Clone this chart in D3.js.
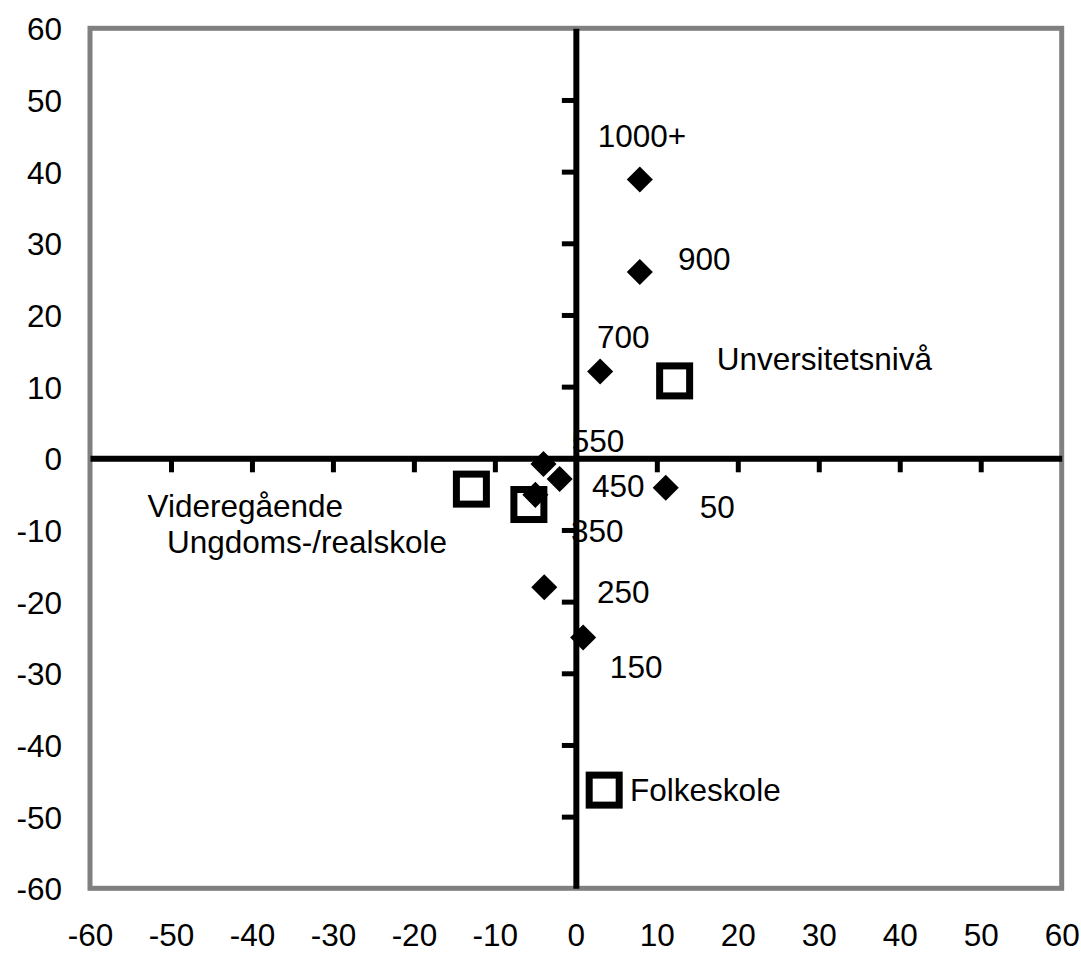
<!DOCTYPE html>
<html>
<head>
<meta charset="utf-8">
<script src="https://cdn.jsdelivr.net/npm/d3@7"></script>
<style>
  body { margin: 0; background: #fff; }
  text { font-family: "Liberation Sans", Arial, sans-serif; fill: #000; }
</style>
</head>
<body>
<div id="chart"></div>
<script>
'use strict';

// income groups (diamonds)
var incomeLabels = ['1000+', '900', '700', '550', '450', '350', '250', '150', '50'];
var incomeX = [7.9, 7.9, 3.0, -4.0, -2.0, -5.0, -3.9, 0.9, 11.1];
var incomeY = [38.9, 26.0, 12.1, -0.8, -2.9, -5.1, -18.0, -25.0, -4.1];
var incomeTextX = [2.7, 12.6, 2.6, -0.5, 2.0, -0.6, 2.6, 4.2, 15.3];
var incomeTextY = [43.4, 26.3, 15.4, 0.9, -5.4, -11.7, -20.2, -30.7, -8.3];

// education levels (hollow squares)
var eduLabels = ['Unversitetsnivå', 'Videregående', 'Ungdoms-/realskole', 'Folkeskole'];
var eduX = [12.2, -12.9, -5.8, 3.5];
var eduY = [10.8, -4.3, -6.45, -46.3];
var eduTextX = [17.4, -52.9, -50.5, 6.7];
var eduTextY = [12.3, -8.2, -13.2, -47.8];

var axisTicks = [-60, -50, -40, -30, -20, -10, 0, 10, 20, 30, 40, 50, 60];
var innerTicks = [-50, -40, -30, -20, -10, 10, 20, 30, 40, 50];

var w, h, fontSize, svg, x, y, i, diamond, zeroX, zeroY, plain;

w = 1081;
h = 955;
fontSize = '31.5px';

// plain hyphen for negatives, like the original
plain = function(d) { return String(d); };

svg = d3.select('#chart')
  .append('svg')
  .attr('width', w)
  .attr('height', h);

x = d3.scaleLinear().domain([-60, 60]).range([90, 1061.7]);
y = d3.scaleLinear().domain([-60, 60]).range([888.3, 28.3]);

// plot frame
svg.append('rect')
  .attr('x', x(-60))
  .attr('y', y(60))
  .attr('width', x(60) - x(-60))
  .attr('height', y(-60) - y(60))
  .attr('fill', 'none')
  .attr('stroke', '#808080')
  .attr('stroke-width', 5);

// outer tick labels
svg.append('g')
  .attr('transform', 'translate(0,' + (y(-60) + 58) + ')')
  .call(d3.axisBottom(x).tickValues(axisTicks).tickSize(0).tickPadding(0).tickFormat(plain))
  .call(function(g) { g.select('.domain').remove(); })
  .selectAll('text')
  .attr('dy', 0)
  .style('font-size', fontSize)
  .style('font-family', '"Liberation Sans", Arial, sans-serif');

svg.append('g')
  .attr('transform', 'translate(' + (x(-60) - 28) + ',0)')
  .call(d3.axisLeft(y).tickValues(axisTicks).tickSize(0).tickPadding(0).tickFormat(plain))
  .call(function(g) { g.select('.domain').remove(); })
  .selectAll('text')
  .attr('dy', '0.37em')
  .style('font-size', fontSize)
  .style('font-family', '"Liberation Sans", Arial, sans-serif');

// point labels (drawn under the axes, as in the original)
for (i = 0; i < incomeLabels.length; i++) {
  svg.append('text')
    .attr('x', x(incomeTextX[i]))
    .attr('y', y(incomeTextY[i]))
    .style('font-size', fontSize)
    .text(incomeLabels[i]);
}
for (i = 0; i < eduLabels.length; i++) {
  svg.append('text')
    .attr('x', x(eduTextX[i]))
    .attr('y', y(eduTextY[i]))
    .style('font-size', fontSize)
    .text(eduLabels[i]);
}

// axes crossing at zero
zeroX = svg.append('g')
  .attr('transform', 'translate(0,' + y(0) + ')')
  .call(d3.axisBottom(x).tickValues(innerTicks).tickSize(14).tickSizeOuter(0).tickFormat(''));
zeroX.select('.domain').attr('stroke', '#000').attr('stroke-width', 6);
zeroX.selectAll('.tick line').attr('stroke', '#000').attr('stroke-width', 5);

zeroY = svg.append('g')
  .attr('transform', 'translate(' + x(0) + ',0)')
  .call(d3.axisLeft(y).tickValues(innerTicks).tickSize(14).tickSizeOuter(0).tickFormat(''));
zeroY.select('.domain').attr('stroke', '#000').attr('stroke-width', 6);
zeroY.selectAll('.tick line').attr('stroke', '#000').attr('stroke-width', 5);

// education squares
for (i = 0; i < eduLabels.length; i++) {
  svg.append('rect')
    .attr('x', x(eduX[i]) - 15)
    .attr('y', y(eduY[i]) - 15)
    .attr('width', 30)
    .attr('height', 30)
    .attr('fill', 'none')
    .attr('stroke', '#000')
    .attr('stroke-width', 7);
}

// income diamonds
diamond = d3.symbol().type(d3.symbolSquare).size(340);
for (i = 0; i < incomeLabels.length; i++) {
  svg.append('path')
    .attr('d', diamond())
    .attr('transform', 'translate(' + x(incomeX[i]) + ',' + y(incomeY[i]) + ') rotate(45)')
    .attr('fill', '#000');
}
</script>
</body>
</html>
